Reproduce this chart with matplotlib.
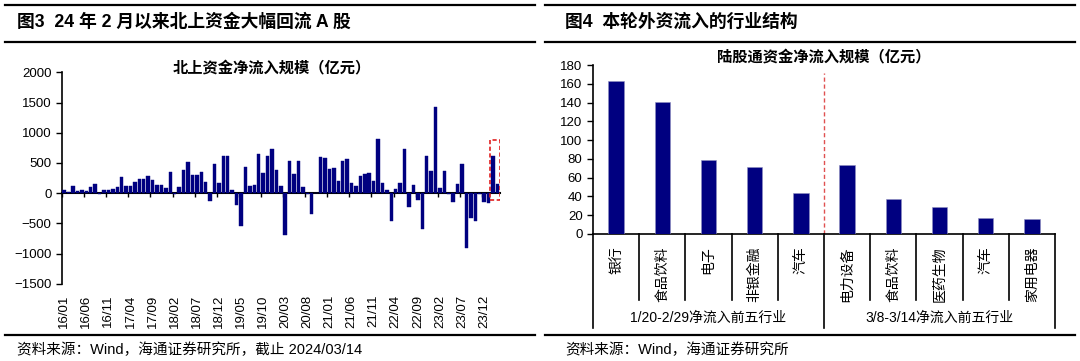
import numpy as np
import matplotlib.pyplot as plt
from matplotlib.lines import Line2D
from matplotlib.patches import Rectangle
import matplotlib.transforms as mtransforms

plt.rcParams['font.family'] = ['Liberation Sans', 'Noto Sans CJK SC']

# ---- data: left chart, monthly northbound net inflow 2016/01 - 2024/03 (亿元)
flow_values = [
    45, 10, 110, 35, 50, 35, 95, 155, -20, 45,
    55, 70, 100, 265, 120, 110, 185, 230, 230, 280,
    210, 130, 135, 90, 355, -20, 100, 390, 510, 295,
    295, 355, 180, -125, 480, 165, 610, 610, 50, -200,
    -550, 430, 125, 140, 650, 330, 615, 730, 390, 120,
    -700, 535, 310, 535, 100, -15, -350, 5, 590, 585,
    405, 420, 195, 530, 560, 165, 110, 280, 310, 335,
    195, 895, 170, 45, -465, 60, 170, 735, -235, 130,
    -120, -595, 610, 360, 1420, 90, 360, -20, -140, 145,
    480, -910, -410, -465, -15, -150, -165, 610, 145,
]
tick_labels = ["16/01", "16/06", "16/11", "17/04", "17/09", "18/02", "18/07",
               "18/12", "19/05", "19/10", "20/03", "20/08", "21/01", "21/06",
               "21/11", "22/04", "22/09", "23/02", "23/07", "23/12"]

# ---- data: right chart, industry inflow (亿元)
industries_1 = ["银行", "食品饮料", "电子", "非银金融", "汽车"]
inflow_1 = [163, 141, 79, 71, 44]
industries_2 = ["电力设备", "食品饮料", "医药生物", "汽车", "家用电器"]
inflow_2 = [73, 37, 29, 17, 16]
group_labels = ["1/20-2/29净流入前五行业", "3/8-3/14净流入前五行业"]

navy = "#000080"
W, H = 1080, 361
fig = plt.figure(figsize=(W / 100, H / 100), dpi=100)


def fx(px):
    return px / W


def fy(py):
    return 1 - py / H


# frame lines and headers
for x0, x1 in [(5, 535), (545, 1075)]:
    for py, lw in [(5, 1.6), (42, 1.6), (335, 1.6)]:
        fig.add_artist(Line2D([fx(x0), fx(x1)], [fy(py), fy(py)], color="black", lw=lw))

fig.text(fx(17), fy(22), "图3  24 年 2 月以来北上资金大幅回流 A 股", fontsize=12.8,
         fontweight="bold", va="center", ha="left")
fig.text(fx(565), fy(22), "图4  本轮外资流入的行业结构", fontsize=12.8,
         fontweight="bold", va="center", ha="left")
fig.text(fx(17), fy(350), "资料来源：Wind，海通证券研究所，截止 2024/03/14", fontsize=10.5,
         va="center", ha="left")
fig.text(fx(565), fy(350), "资料来源：Wind，海通证券研究所", fontsize=10.5,
         va="center", ha="left")

# ---------------- left chart ----------------
ax = fig.add_axes([fx(62), fy(283.7), fx(437.6), (283.7 - 72.3) / H])
n = len(flow_values)
x = np.arange(n)
ax.bar(x, flow_values, width=0.78, color=navy, edgecolor=navy, linewidth=0.3, zorder=3)
ymin, ymax = -1500, 2000
ax.set_ylim(ymin, ymax)
ax.set_xlim(-0.5, n - 0.5)
ax.set_yticks(np.arange(-1500, 2001, 500))
ax.tick_params(axis="y", direction="out", length=4, labelsize=9.5, width=1)
for s in ["top", "right", "bottom"]:
    ax.spines[s].set_visible(False)
ax.spines["left"].set_linewidth(1.2)
ax.set_xticks(np.arange(0, 5 * len(tick_labels), 5))
ax.set_xticklabels(tick_labels, rotation=90, fontsize=9.5)
ax.tick_params(axis="x", length=0, pad=8)

zero_line = ax.secondary_xaxis((0 - ymin) / (ymax - ymin))
zero_line.spines["bottom"].set_linewidth(1.5)
zero_line.set_xticks(np.arange(-0.5, n, 5))
zero_line.tick_params(axis="x", direction="out", length=3, labelbottom=False, width=1)

ax.text(0.48, 1.02, "北上资金净流入规模（亿元）", transform=ax.transAxes, ha="center",
        va="center", fontsize=11, fontweight="bold")

last = flow_values[-2:]
ax.add_patch(Rectangle((n - 2 - 0.7, min(0, min(last)) - 120), 2.4,
                       max(last) + 270 - (min(0, min(last)) - 120), fill=False,
                       edgecolor="#E02020", linestyle=(0, (2.5, 1.5)), lw=1.2, zorder=4))

# ---------------- right chart ----------------
ax2 = fig.add_axes([fx(593), fy(234), fx(462), (234 - 65) / H])
labels = industries_1 + industries_2
values = inflow_1 + inflow_2
pos = np.arange(len(values))
ax2.bar(pos, values, width=0.33, color=navy, edgecolor="#9090c0", linewidth=0.4, zorder=3)
ax2.set_ylim(0, 180)
ax2.set_xlim(-0.5, len(values) - 0.5)
ax2.set_yticks(np.arange(0, 181, 20))
ax2.tick_params(axis="y", direction="out", length=4, labelsize=9.5, width=1)
ax2.set_xticks([])
for s in ["top", "right"]:
    ax2.spines[s].set_visible(False)
ax2.spines["left"].set_linewidth(1.2)
ax2.spines["bottom"].set_linewidth(1.2)

ax2.text(0.5, 1.05, "陆股通资金净流入规模（亿元）", transform=ax2.transAxes, ha="center",
         va="center", fontsize=11, fontweight="bold")

trans = mtransforms.blended_transform_factory(ax2.transData, ax2.transAxes)
split = len(industries_1) - 0.5
ax2.plot([split, split], [0, 0.95], transform=trans, color="#E05050",
         linestyle=(0, (3, 2)), lw=1)
for b in np.arange(-0.5, len(values), 1.0):
    outer = b in (-0.5, split, len(values) - 0.5)
    ax2.plot([b, b], [0, -0.556 if outer else -0.39], transform=trans, color="black",
             lw=1.2, clip_on=False)
for p, lab in zip(pos, labels):
    ax2.text(p, -0.075, lab, transform=trans, rotation=90, ha="center", va="top",
             fontsize=10)
group_centers = [(len(industries_1) - 1) / 2, len(industries_1) + (len(industries_2) - 1) / 2]
for c, g in zip(group_centers, group_labels):
    ax2.text(c, -0.497, g, transform=trans, ha="center", va="center", fontsize=10)

fig.savefig("out.png", dpi=100)
